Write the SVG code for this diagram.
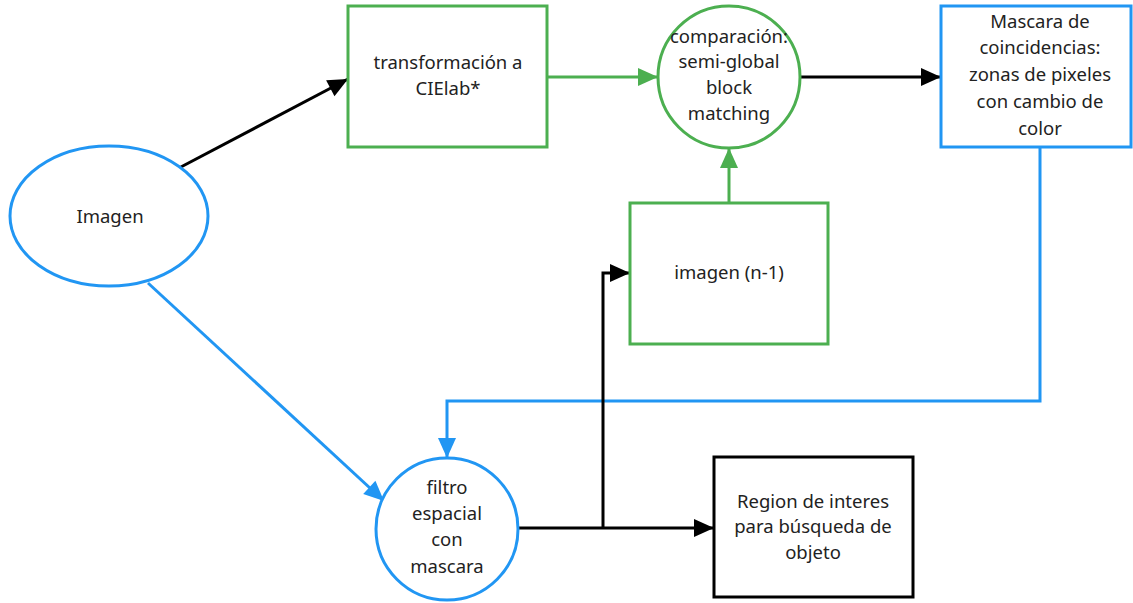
<svg xmlns="http://www.w3.org/2000/svg" width="1133" height="603" viewBox="0 0 1133 603">
<style>
text{font-family:"Noto Sans","Open Sans",sans-serif;font-size:18.5px;fill:#222;text-anchor:middle;dominant-baseline:central}
.g{stroke:#4CAF50;stroke-width:3;fill:#fff}
.b{stroke:#2196F3;stroke-width:3;fill:#fff}
.k{stroke:#000;stroke-width:3;fill:#fff}
.c{fill:none;stroke-width:3}
</style>
<defs>
<marker id="ak" markerUnits="userSpaceOnUse" markerWidth="22" markerHeight="22" viewBox="0 0 22 22" refX="21" refY="11" orient="auto"><path d="M1,2 L21,11 L1,20 Z" fill="#000"/></marker>
<marker id="ag" markerUnits="userSpaceOnUse" markerWidth="22" markerHeight="22" viewBox="0 0 22 22" refX="21" refY="11" orient="auto"><path d="M1,2 L21,11 L1,20 Z" fill="#4CAF50"/></marker>
<marker id="ab" markerUnits="userSpaceOnUse" markerWidth="22" markerHeight="22" viewBox="0 0 22 22" refX="21" refY="11" orient="auto"><path d="M1,2 L21,11 L1,20 Z" fill="#2196F3"/></marker>
</defs>
<g id="connectors">
<path class="c" stroke="#000" d="M179,168 L348,79" marker-end="url(#ak)"/>
<path class="c" stroke="#4CAF50" d="M547,77 L658,77" marker-end="url(#ag)"/>
<path class="c" stroke="#000" d="M800,77 L941,77" marker-end="url(#ak)"/>
<path class="c" stroke="#4CAF50" d="M729,203 L729,148" marker-end="url(#ag)"/>
<path class="c" stroke="#2196F3" d="M1040,147 L1040,401 L447,401 L447,458" marker-end="url(#ab)"/>
<path class="c" stroke="#2196F3" d="M148,283 L384,501" marker-end="url(#ab)"/>
<path class="c" stroke="#000" d="M518,528 L714,528" marker-end="url(#ak)"/>
<path class="c" stroke="#000" d="M603,528 L603,273 L630,273" marker-end="url(#ak)"/>
</g>
<g id="imagen">
<ellipse class="b" cx="109" cy="216" rx="99" ry="70"/>
<text x="110" y="215">Imagen</text>
</g>
<g id="transformacion">
<rect class="g" x="348" y="6" width="199" height="141"/>
<text x="448" y="61">transformación a</text>
<text x="448" y="87">CIElab*</text>
</g>
<g id="comparacion">
<circle class="g" cx="729" cy="77" r="71"/>
<text x="729" y="35">comparación:</text>
<text x="729" y="60">semi-global</text>
<text x="729" y="86">block</text>
<text x="729" y="112">matching</text>
</g>
<g id="mascara">
<rect class="b" x="941" y="6" width="190" height="141"/>
<text x="1040" y="20">Mascara de</text>
<text x="1040" y="46">coincidencias:</text>
<text x="1040" y="73">zonas de pixeles</text>
<text x="1040" y="100">con cambio de</text>
<text x="1040" y="127">color</text>
</g>
<g id="imagen-n1">
<rect class="g" x="630" y="203" width="198" height="141"/>
<text x="729" y="271">imagen (n-1)</text>
</g>
<g id="filtro">
<circle class="b" cx="447" cy="529" r="71"/>
<text x="447" y="486">filtro</text>
<text x="447" y="512">espacial</text>
<text x="447" y="538">con</text>
<text x="447" y="565">mascara</text>
</g>
<g id="region">
<rect class="k" x="714" y="457" width="199" height="140"/>
<text x="813" y="500">Region de interes</text>
<text x="813" y="525">para búsqueda de</text>
<text x="813" y="551">objeto</text>
</g>
</svg>
